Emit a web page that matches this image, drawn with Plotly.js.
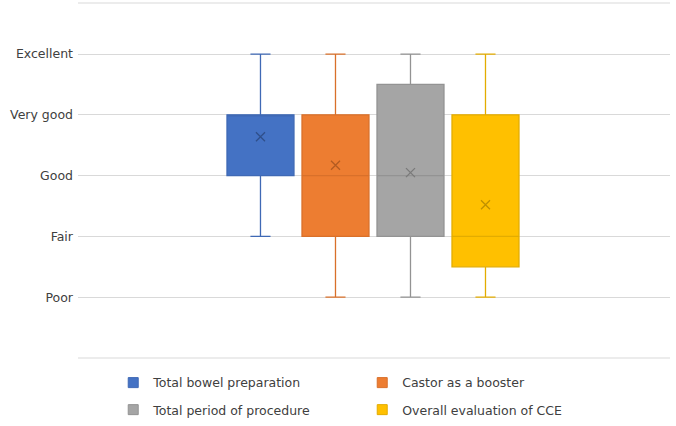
<!DOCTYPE html>
<html>
<head>
<meta charset="utf-8">
<script src="https://cdn.plot.ly/plotly-3.0.1.min.js"></script>
<style>html,body{margin:0;padding:0;background:#fff;}#chart{width:676px;height:426px;}</style>
</head>
<body>
<div id="chart"></div>
<script>
// ---- data ----
const seriesNames = ["Total bowel preparation", "Castor as a booster", "Total period of procedure", "Overall evaluation of CCE"];
const lowerFence = [2, 1, 1, 1];
const q1Values   = [3, 2, 2, 1.5];
const medianVals = [4, 3, 3, 2];
const q3Values   = [4, 4, 4.5, 4];
const upperFence = [5, 5, 5, 5];
const meanValues = [3.64, 3.17, 3.05, 2.52];
const ratingLabels = ["Poor", "Fair", "Good", "Very good", "Excellent"];
const ratingValues = [1, 2, 3, 4, 5];

// ---- styles ----
const fillColors = ["#4472C4", "#ED7D31", "#A5A5A5", "#FFC000"];
const edgeColors = ["#3F69B5", "#D9702A", "#939393", "#E3AC00"];
const meanColors = ["#2F4F8A", "#B35C22", "#7A7A7A", "#BF9000"];
const fontFam = "DejaVu Sans, Verdana, sans-serif";

const traces = [];
seriesNames.forEach((name, i) => {
  const pos = i + 1;
  traces.push({
    type: "box", name: name, x: [pos],
    q1: [q1Values[i]], median: [medianVals[i]], q3: [q3Values[i]],
    lowerfence: [lowerFence[i]], upperfence: [upperFence[i]],
    width: 0.893, whiskerwidth: 0.3,
    fillcolor: fillColors[i], line: {color: edgeColors[i], width: 1.3},
    boxpoints: false, showlegend: false, hoverinfo: "skip"
  });
  traces.push({
    type: "scatter", mode: "markers", x: [pos], y: [meanValues[i]],
    marker: {symbol: "x-thin-open", size: 9, line: {color: meanColors[i], width: 1.3}, color: meanColors[i]},
    showlegend: false, hoverinfo: "skip"
  });
});
// legend entries
seriesNames.forEach((name, i) => {
  traces.push({
    type: "scatter", mode: "markers", name: name, x: [null], y: [null],
    marker: {symbol: "square", size: 10, color: fillColors[i], line: {color: edgeColors[i], width: 1}},
    legend: i < 2 ? "legend" : "legend2", hoverinfo: "skip"
  });
});

const legendCommon = {
  orientation: "h", xanchor: "left", yanchor: "middle",
  entrywidth: 204, entrywidthmode: "pixels",
  font: {family: fontFam, size: 12.5, color: "#404040"},
  bgcolor: "rgba(0,0,0,0)", borderwidth: 0, itemclick: false
};

const layout = {
  width: 676, height: 426,
  margin: {l: 78, r: 6, t: 3, b: 68, autoexpand: false},
  paper_bgcolor: "#ffffff", plot_bgcolor: "#ffffff",
  font: {family: fontFam, color: "#404040"},
  showlegend: true,
  xaxis: {range: [-1.433, 6.46], visible: false, fixedrange: true},
  yaxis: {
    range: [0, 5.84], tickvals: [0].concat(ratingValues), ticktext: [""].concat(ratingLabels),
    showgrid: true, gridcolor: "#D9D9D9", gridwidth: 1, zeroline: false, showline: false,
    ticks: "", ticklabelstandoff: 4, tickfont: {family: fontFam, size: 12.5, color: "#404040"},
    fixedrange: true
  },
  shapes: [
    {type: "line", xref: "paper", yref: "paper", x0: 0, x1: 1, y0: 1, y1: 1,
     line: {color: "#D9D9D9", width: 1}, layer: "below"},
    {type: "line", xref: "paper", yref: "paper", x0: 0, x1: 1, y0: 0, y1: 0,
     line: {color: "#D9D9D9", width: 1}, layer: "below"}
  ],
  legend: Object.assign({}, legendCommon, {x: 0.0595, y: -0.0704}),
  legend2: Object.assign({}, legendCommon, {x: 0.0595, y: -0.1465})
};

Plotly.newPlot("chart", traces, layout, {displayModeBar: false, staticPlot: true});
</script>
</body>
</html>
